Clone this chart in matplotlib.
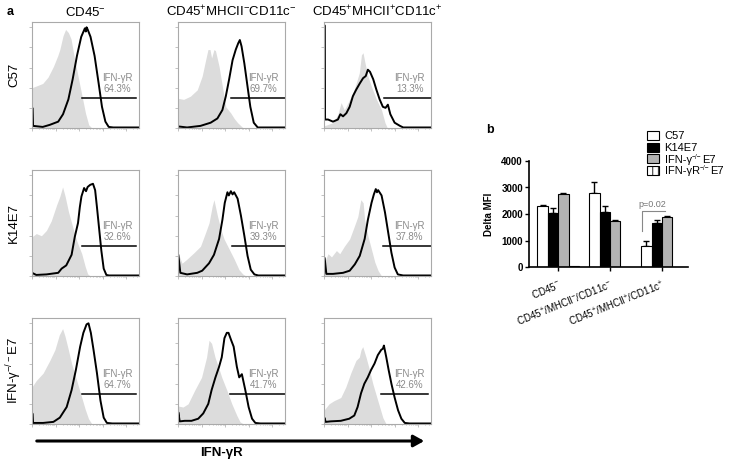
import numpy as np
import matplotlib
matplotlib.use('Agg')
import matplotlib.pyplot as plt
from matplotlib.patches import Rectangle, FancyArrowPatch

plt.rcParams['font.family'] = ['Liberation Sans', 'DejaVu Sans']
plt.rcParams['mathtext.fontset'] = 'custom'
plt.rcParams['mathtext.rm'] = 'Liberation Sans'
plt.rcParams['mathtext.it'] = 'Liberation Sans:italic'
plt.rcParams['mathtext.bf'] = 'Liberation Sans:bold'
plt.rcParams['hatch.linewidth'] = 0.6

# ---- panel a: histograms (x = position across the log axis, 0-100; y = % of max)
col_titles = ['CD45$^{-}$', 'CD45$^{+}$MHCII$^{-}$CD11c$^{-}$', 'CD45$^{+}$MHCII$^{+}$CD11c$^{+}$']
row_labels = ['C57', 'K14E7', 'IFN-γ$^{-/-}$E7']

iso_c57_neg = [(0, 38), (5, 40), (10, 42), (15, 48), (20, 58), (24, 68), (26, 74), (29, 87), (31.4, 93), (34, 90),
               (36.5, 84), (40, 64), (45, 39), (50, 14), (53, 3), (56, 0), (100, 0)]
ifn_c57_neg = [(0, 0.5), (0.3, 19), (1, 2), (10, 1), (16.7, 3), (24.5, 6), (29, 13), (34, 27), (38, 46), (42, 68),
               (46, 86), (49.4, 94), (50.3, 91), (51, 95), (52, 93), (54.7, 86), (58.5, 68), (62.3, 42), (65.4, 20),
               (68.6, 6), (71.7, 1), (76, 0.5), (100, 0.5)]
iso_c57_mhcneg = [(0, 28), (5.3, 27), (11.6, 30), (18, 36), (22.6, 49), (25.8, 64), (28, 74), (29.9, 74), (31.4, 66),
                  (33.6, 74), (35, 73), (38.4, 58), (41.5, 39), (44.7, 20), (49.4, 14), (52.5, 9), (55.7, 5),
                  (60.4, 0.5), (65, 0), (100, 0)]
ifn_c57_mhcneg = [(0, 1.5), (8.5, 0.5), (21, 2), (30.5, 5), (36.8, 9), (41.5, 17), (44.7, 30), (47.8, 46), (51, 64),
                  (54, 74), (56.3, 80), (57.8, 83), (59.4, 77), (62, 61), (65, 39), (67.6, 20), (70.8, 5),
                  (74.5, 0.5), (100, 0.5)]
iso_c57_mhcpos = [(0, 2), (8.4, 5), (13, 13), (16, 24), (19, 17), (22.5, 24), (27, 33), (30, 42), (33, 52), (35, 69),
                  (36.5, 71), (38, 63), (41, 49), (44.4, 39), (49, 27), (53.8, 17), (57, 5), (59, 0.5), (61, 0),
                  (100, 0)]
ifn_c57_mhcpos = [(0, 0.5), (0.4, 97), (1, 8), (3.8, 8), (8.4, 6), (13, 8), (15.3, 13), (17.8, 11), (20.9, 14),
                  (24, 20), (27, 30), (30, 36), (33.4, 42), (36.5, 47), (39, 49), (41, 55), (43, 53), (46, 46),
                  (49, 36), (52, 27), (55, 20), (57.5, 19), (59.7, 22), (62, 13), (66, 5), (71, 2), (74, 0.5),
                  (100, 0.5)]

iso_k14_neg = [(0, 37), (4, 40), (8.8, 38), (13.5, 43), (18, 52), (23, 67), (26, 75), (28.6, 84), (31, 75), (34, 61),
               (37, 50), (41.5, 34), (46.5, 21), (49.7, 9), (52, 2), (54.4, 0), (100, 0)]
ifn_k14_neg = [(0, 3), (4, 1), (13.5, 1.5), (24.5, 3), (27.7, 7), (32, 10), (37, 20), (40, 37), (43, 50), (44.7, 65),
               (46.2, 75), (48.7, 83), (50.5, 80), (52, 84), (54.4, 86), (57, 87), (59, 81), (60.7, 65), (62.6, 46),
               (64.8, 24), (67, 7), (69.5, 1), (72, 0.5), (100, 0.5)]
iso_k14_mhcneg = [(0, 22), (3.8, 12), (8.5, 16), (15, 22), (21, 28), (25.8, 41), (29, 50), (32, 66), (33.6, 72),
                  (36.8, 57), (40, 44), (43, 35), (48, 25), (52.5, 16), (57, 6), (60.4, 2), (63.5, 0), (100, 0)]
ifn_k14_mhcneg = [(0, 0.5), (0.3, 20), (2.2, 3), (8.5, 1.5), (18, 3), (22.6, 5), (29, 12), (33.6, 20), (38.4, 35),
                  (41.5, 53), (43.7, 69), (46.2, 79), (47.5, 76), (49.4, 80), (51, 77), (52.5, 79), (55.7, 73),
                  (58.8, 57), (62, 38), (65, 19), (68, 6), (71.4, 1.5), (75, 0.5), (100, 0.5)]
iso_k14_mhcpos = [(0, 12), (3.8, 21), (7, 18), (11.6, 24), (14.7, 21), (19, 28), (24, 35), (28.4, 47), (31.6, 56),
                  (34.4, 72), (36.6, 69), (38, 53), (41, 38), (44.4, 25), (47.5, 13), (50.6, 5), (53.8, 0), (100, 0)]
ifn_k14_mhcpos = [(0, 0.5), (0.6, 17), (2.2, 2), (8.4, 2), (17.8, 3), (24, 5), (28.8, 11), (33.4, 19), (38, 35),
                  (41, 53), (44.4, 69), (46.6, 77), (48.4, 82), (49.5, 79), (50.6, 81), (53.8, 76), (57, 60),
                  (60, 41), (63, 22), (66, 8), (69, 1.5), (74, 0.5), (100, 0.5)]

iso_ifng_neg = [(0, 35), (4, 41), (10.4, 48), (16.7, 60), (21.4, 70), (25.5, 84), (28.6, 90), (30.8, 83), (34, 70),
                (37, 57), (41.8, 41), (46.5, 25), (49.7, 14), (52.8, 5), (56, 0), (100, 0)]
ifn_ifng_neg = [(0, 0.5), (0.3, 10), (1, 1), (10.4, 1), (20, 2), (26, 6), (32.4, 16), (37, 32), (41, 51), (45, 73),
                (48, 86), (51, 94), (52.8, 95), (55, 86), (57.5, 70), (60.7, 48), (64, 22), (67, 6), (70, 1),
                (75, 0.5), (100, 0.5)]
iso_ifng_mhcneg = [(0, 17), (4.7, 16), (9.4, 19), (15.7, 32), (22, 44), (26.7, 63), (29, 79), (31.4, 76), (34.6, 63),
                   (37.7, 54), (40.9, 44), (45.6, 32), (50.3, 19), (55, 8), (58, 2), (61.3, 0), (100, 0)]
ifn_ifng_mhcneg = [(0, 0.5), (0.3, 11), (1.6, 2.5), (6.3, 3), (12.6, 3), (18.9, 5), (23.6, 10), (28.3, 19),
                   (31.4, 32), (35, 44), (38.4, 54), (40.9, 63), (43.4, 81), (45.6, 86), (47.2, 86), (49.7, 79),
                   (52, 73), (55, 54), (57.2, 44), (59.7, 47), (62.9, 32), (66, 16), (69.2, 5), (72.3, 1),
                   (77, 0.5), (100, 0.5)]
iso_ifng_mhcpos = [(0, 13), (4.7, 19), (9.4, 22), (15.7, 25), (20.4, 35), (25, 48), (29.9, 60), (33, 63), (34.6, 70),
                   (36.2, 73), (39.3, 63), (42.5, 51), (45.6, 38), (50.3, 22), (55, 6), (58, 0), (100, 0)]
ifn_ifng_mhcpos = [(0, 0.5), (0.3, 6), (1.6, 2), (6.3, 2.5), (15.7, 3), (23.6, 5), (28.3, 8), (31.4, 16), (34.6, 29),
                   (37.7, 38), (40.9, 44), (44, 51), (47.2, 57), (50.3, 65), (53.5, 70), (55, 71), (56, 74),
                   (58.2, 63), (60.4, 51), (63, 38), (66, 25), (69.2, 13), (72.3, 5), (75.5, 1), (80, 0.5),
                   (100, 0.5)]

iso_curves = [[iso_c57_neg, iso_c57_mhcneg, iso_c57_mhcpos],
              [iso_k14_neg, iso_k14_mhcneg, iso_k14_mhcpos],
              [iso_ifng_neg, iso_ifng_mhcneg, iso_ifng_mhcpos]]
ifn_curves = [[ifn_c57_neg, ifn_c57_mhcneg, ifn_c57_mhcpos],
              [ifn_k14_neg, ifn_k14_mhcneg, ifn_k14_mhcpos],
              [ifn_ifng_neg, ifn_ifng_mhcneg, ifn_ifng_mhcpos]]

pct = [['64.3%', '69.7%', '13.3%'],
       ['32.6%', '39.3%', '37.8%'],
       ['64.7%', '41.7%', '42.6%']]
gate_start = [[46.5, 49.4, 56], [47, 50, 55], [46.5, 48.7, 53.5]]
gate_end = [[97.5, 100, 100], [97.5, 100, 100], [97.5, 100, 97.5]]

# ---- panel b: delta MFI bars
groups = ['CD45$^{-}$', 'CD45$^{+}$/MHCII$^{-}$/CD11c$^{-}$', 'CD45$^{+}$/MHCII$^{+}$/CD11c$^{+}$']
c57_mfi = [2290, 2790, 810]
c57_err = [50, 400, 165]
k14_mfi = [2040, 2090, 1660]
k14_err = [185, 220, 115]
ifng_mfi = [2740, 1740, 1900]
ifng_err = [70, 50, 25]
ifngr_mfi = [30, 5, 15]
# legend names as (text, is_superscript) pieces
series_names = [[('C57', 0)],
                [('K14E7', 0)],
                [('IFN-γ', 0), ('−/−', 1), ('E7', 0)],
                [('IFN-γR', 0), ('−/−', 1), ('E7', 0)]]

W, H = 729, 465
fig = plt.figure(figsize=(W / 100, H / 100), dpi=100)
renderer = fig.canvas.get_renderer()

col_left = [32, 178, 324]
row_top = [22, 170, 318]
pw, ph = 107, 106

minor_x = [d * 22 + 22 * np.log10(k) for d in range(5) for k in range(2, 10)]

for r in range(3):
    for c in range(3):
        ax = fig.add_axes([col_left[c] / W, 1 - (row_top[r] + ph) / H, pw / W, ph / H])
        iso = np.array(iso_curves[r][c])
        ifn = np.array(ifn_curves[r][c])
        ax.fill_between(iso[:, 0], 0, iso[:, 1], color='#dcdcdc', lw=0)
        ax.plot(ifn[:, 0], ifn[:, 1], color='black', lw=1.4)
        ax.plot([gate_start[r][c], gate_end[r][c]], [28.5, 28.5], color='black', lw=1.1)
        ax.text(80, 47, 'IFN-γR', color='#8a8a8a', fontsize=7, ha='center', va='center')
        ax.text(80, 37, pct[r][c], color='#8a8a8a', fontsize=7, ha='center', va='center')
        ax.set_xlim(0, 100)
        ax.set_ylim(0, 100)
        ax.set_xticks([0, 22, 44, 66, 88])
        ax.set_xticks([m for m in minor_x if m <= 100], minor=True)
        ax.set_yticks([0, 19, 38, 57, 76, 95])
        ax.tick_params(which='both', direction='out', length=2, width=0.5, color='#aaaaaa',
                       labelbottom=False, labelleft=False)
        ax.tick_params(which='minor', length=1)
        for s in ax.spines.values():
            s.set_color('#aaaaaa')
            s.set_linewidth(0.8)
        if r == 0:
            ax.set_title(col_titles[c], fontsize=9.5, pad=4)
        if c == 0:
            fig.text(14 / W, 1 - (row_top[r] + ph / 2) / H, row_labels[r], rotation=90,
                     fontsize=9.5, ha='center', va='center')

fig.text(10 / W, 1 - 12 / H, 'a', fontsize=9, fontweight='bold', ha='center', va='center')
fig.add_artist(FancyArrowPatch((34 / W, 1 - 441 / H), (427 / W, 1 - 441 / H), transform=fig.transFigure,
                               arrowstyle='-|>,head_length=0.45,head_width=0.25', mutation_scale=14,
                               lw=2.2, color='black'))
fig.text(221 / W, 1 - 453 / H, 'IFN-γR', fontsize=9.5, fontweight='bold', ha='center', va='center')

# ---- bar chart
bx0, bx1, by0, by1 = 528.5, 688, 161, 267
bax = fig.add_axes([bx0 / W, 1 - by1 / H, (bx1 - bx0) / W, (by1 - by0) / H])
x = np.arange(len(groups))
w = 0.2
bar_kw = dict(edgecolor='black', linewidth=0.8, zorder=2)
bax.bar(x - 1.5 * w, c57_mfi, w, color='white', **bar_kw)
bax.bar(x - 0.5 * w, k14_mfi, w, color='black', **bar_kw)
bax.bar(x + 0.5 * w, ifng_mfi, w, color='#b3b3b3', **bar_kw)
bax.bar(x + 1.5 * w, ifngr_mfi, w, color='white', hatch='|||', **bar_kw)
for off, vals, errs in [(-1.5, c57_mfi, c57_err), (-0.5, k14_mfi, k14_err), (0.5, ifng_mfi, ifng_err)]:
    bax.errorbar(x + off * w, vals, yerr=[np.zeros(len(errs)), errs], fmt='none', ecolor='black',
                 elinewidth=1, capsize=2.5, capthick=1, zorder=1)

# p value bracket between C57 and K14E7 in the MHCII+ group
bax.plot([1.62, 1.62, 2.05], [1340, 2125, 2125], color='#888888', lw=0.8)
bax.text(1.81, 2190, 'p=0.02', color='#777777', fontsize=6.5, ha='center', va='bottom')

bax.set_xlim(-0.57, 2.5)
bax.set_ylim(0, 4000)
bax.set_yticks([0, 1000, 2000, 3000, 4000])
bax.set_xticks(x)
bax.set_xticklabels(groups, rotation=22, ha='right', va='top', rotation_mode='anchor', fontsize=7)
for lab in bax.get_yticklabels():
    lab.set_fontweight('bold')
    lab.set_fontsize(7)
bax.set_ylabel('Delta MFI', fontsize=7, fontweight='bold', labelpad=5)
bax.spines['top'].set_visible(False)
bax.spines['right'].set_visible(False)
bax.spines['left'].set_linewidth(1.2)
bax.spines['bottom'].set_linewidth(1.2)
bax.tick_params(axis='y', direction='out', length=3, width=1, pad=1)
bax.tick_params(axis='x', direction='out', length=3, width=1, pad=5)

fig.text(490 / W, 1 - 130 / H, 'b', fontsize=9, fontweight='bold', ha='center', va='center')

# legend drawn by hand so the rows stay evenly spaced and the superscripts stay small
leg_faces = ['white', 'black', '#b3b3b3', 'white']
leg_hatch = [None, None, None, '|||']
fs = 8
for i, pieces in enumerate(series_names):
    yc = 135.5 + i * 11.6
    fig.add_artist(Rectangle((647 / W, 1 - (yc + 4.5) / H), 11.5 / W, 9 / H, transform=fig.transFigure,
                             facecolor=leg_faces[i], edgecolor='black', lw=0.8, hatch=leg_hatch[i]))
    xpos = 664.5
    for txt, sup in pieces:
        base = yc + 3.9 - (3.8 if sup else 0)
        t = fig.text(xpos / W, 1 - base / H, txt, fontsize=fs * 0.6 if sup else fs, ha='left', va='baseline')
        xpos = t.get_window_extent(renderer).x1 + 0.2

fig.savefig('out.png', dpi=100)
